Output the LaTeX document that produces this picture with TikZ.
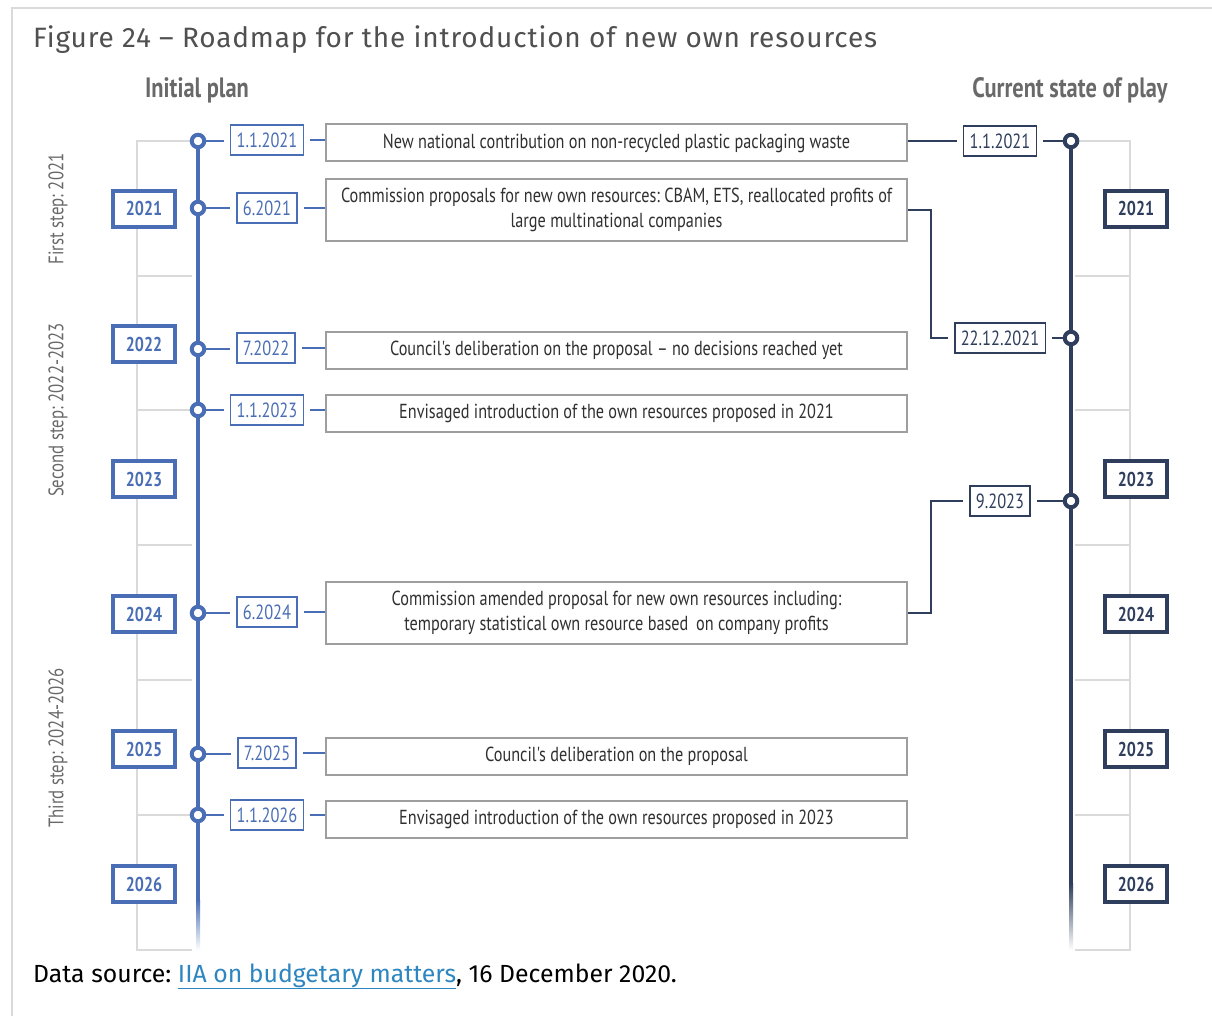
\documentclass[tikz,border=0pt]{standalone}
\usepackage{fontspec}
\setmainfont{Fira Sans}
\newfontfamily\condf[FakeStretch=0.8]{PT Sans}
\newfontfamily\titlef[LetterSpace=3]{Fira Sans}
\usetikzlibrary{calc}
\AtBeginDocument{\frenchspacing}
\definecolor{blueC}{RGB}{74,110,181}
\definecolor{navyC}{RGB}{46,62,92}
\definecolor{lgray}{RGB}{218,218,218}
\definecolor{boxgray}{RGB}{158,158,158}
\definecolor{txtgray}{RGB}{48,48,48}
\definecolor{headgray}{RGB}{105,105,105}
\definecolor{titlegray}{RGB}{80,80,80}
\definecolor{linkC}{RGB}{46,134,193}
\begin{document}
\begin{tikzpicture}[x=1pt,y=-1pt,
  bracket/.style={draw=lgray, line width=2},
  dot/.style={circle, draw, fill=white, line width=4, minimum size=12.5, inner sep=0},
  datebox/.style={draw, line width=1.5, fill=white, minimum height=30, inner xsep=6, inner ysep=0,
     font=\condf\fontsize{20.5}{22}\selectfont},
  dateL/.style={datebox, draw=blueC, text=blueC},
  dateR/.style={datebox, draw=navyC, text=navyC},
  yearbox/.style={draw, line width=4, fill=white, minimum width=62, minimum height=36, inner sep=0,
     font=\condf\bfseries\fontsize{20}{22}\selectfont},
  yearL/.style={yearbox, draw=blueC, text=blueC},
  yearR/.style={yearbox, draw=navyC, text=navyC},
  desc/.style={draw=boxgray, line width=2, fill=white, minimum width=581, inner xsep=6, inner ysep=4,
     align=center, minimum height=37, text=txtgray, font=\condf\fontsize{20.3}{25}\selectfont},
  connL/.style={draw=blueC, line width=2},
  connR/.style={draw=navyC, line width=2},
  steplabel/.style={rotate=90, text=headgray, font=\condf\fontsize{21}{22}\selectfont},
  header/.style={text=headgray, font=\condf\bfseries\fontsize{28}{30}\selectfont}
]
\useasboundingbox (0,0) rectangle (1212,1016);
\fill[white] (0,0) rectangle (1212,1016);
\draw[lgray, line width=1.5] (12,1016) -- (12,8) -- (1212,8);

% title and headers
\node[anchor=base west, inner sep=0, text=titlegray, font=\titlef\fontsize{28}{30}\selectfont] (title) at (33,48)
  {Figure 24 – Roadmap for the introduction of new own resources};
\node[header] (hL) at (197,90) {Initial plan};
\node[header] (hR) at (1070,90) {Current state of play};

% step labels
\node[steplabel] (s1) at (58,209) {First step: 2021};
\node[steplabel] (s2) at (58,410) {Second step: 2022-2023};
\node[steplabel] (s3) at (58,748) {Third step: 2024-2026};

% left bracket
\draw[bracket] (192,141) -- (137,141) -- (137,950) -- (192,950);
\foreach \yy in {276,410,545,680,815} \draw[bracket] (137,\yy) -- (192,\yy);
% right bracket
\draw[bracket] (1075,141) -- (1130,141) -- (1130,950) -- (1075,950);
\foreach \yy in {276,410,545,680,815} \draw[bracket] (1075,\yy) -- (1130,\yy);

% main timelines
\draw[blueC, line width=4] (198,141) -- (198,902);
\shade[top color=blueC, bottom color=white] (196,900) rectangle (200,950);
\draw[navyC, line width=4] (1071,141) -- (1071,885);
\shade[top color=navyC, bottom color=white] (1069,883) rectangle (1073,950);

% year boxes
\foreach \yr [count=\i from 0] in {2021,2022,2023,2024,2025,2026} {
  \node[yearL] (yl\yr) at (144,209+135*\i) {\yr};
}
\foreach \yr/\i in {2021/0,2023/2,2024/3,2025/4,2026/5} {
  \node[yearR] (yr\yr) at (1136,209+135*\i) {\yr};
}

% left dots
\node[dot, draw=blueC] (cl1) at (198,141) {};
\node[dot, draw=blueC] (cl2) at (198,208) {};
\node[dot, draw=blueC] (cl3) at (198,349) {};
\node[dot, draw=blueC] (cl4) at (198,410) {};
\node[dot, draw=blueC] (cl5) at (198,613) {};
\node[dot, draw=blueC] (cl6) at (198,754) {};
\node[dot, draw=blueC] (cl7) at (198,815) {};
% right dots
\node[dot, draw=navyC] (cr1) at (1071,141) {};
\node[dot, draw=navyC] (cr2) at (1071,338) {};
\node[dot, draw=navyC] (cr3) at (1071,501) {};

% left date boxes
\node[dateL] (dl1) at (267,140) {1.1.2021};
\node[dateL] (dl2) at (267,208) {6.2021};
\node[dateL] (dl3) at (266,348) {7.2022};
\node[dateL] (dl4) at (267,410) {1.1.2023};
\node[dateL] (dl5) at (267,612) {6.2024};
\node[dateL] (dl6) at (267,753) {7.2025};
\node[dateL] (dl7) at (267,815) {1.1.2026};
% right date boxes
\node[dateR] (dr1) at (1000,141) {1.1.2021};
\node[dateR] (dr2) at (1000,338) {22.12.2021};
\node[dateR] (dr3) at (1000,501) {9.2023};

% description boxes
\node[desc] (g1) at (616.5,143) {New national contribution on non-recycled plastic packaging waste};
\node[desc, minimum height=62] (g2) at (616.5,210) {Commission proposals for new own resources: CBAM, ETS, reallocated profits of\\ large multinational companies};
\node[desc] (g3) at (616.5,350) {Council's deliberation on the proposal – no decisions reached yet};
\node[desc] (g4) at (616.5,413) {Envisaged introduction of the own resources proposed in 2021};
\node[desc, minimum height=62] (g5) at (616.5,613) {Commission amended proposal for new own resources including:\\ temporary statistical own resource based\, on company profits};
\node[desc] (g6) at (616.5,756) {Council's deliberation on the proposal};
\node[desc] (g7) at (616.5,819) {Envisaged introduction of the own resources proposed in 2023};

% left connectors
\foreach \k in {1,...,7} {
  \draw[connL, shorten >=6] (cl\k) -- (cl\k -| dl\k.west);
  \draw[connL, shorten <=6] (dl\k.east) -- (dl\k.east -| g\k.west);
}
% right connectors
\draw[connR, shorten >=6] (g1.east |- dr1.west) -- (dr1.west);
\draw[connR, shorten <=6] (dr1.east) -- (cr1);
\draw[connR, shorten >=6] (g2.east) -- ++(23,0) |- (dr2.west);
\draw[connR, shorten <=6] (dr2.east) -- (cr2);
\draw[connR, shorten >=6] (g5.east) -- ++(23,0) |- (dr3.west);
\draw[connR, shorten <=6] (dr3.east) -- (cr3);

% source
\node[anchor=base west, inner sep=0, font=\fontsize{24.8}{28}\selectfont] (src) at (33,982)
  {Data source: \textcolor{linkC}{\underline{IIA on budgetary matters}}, 16 December 2020.};
\end{tikzpicture}
\end{document}
